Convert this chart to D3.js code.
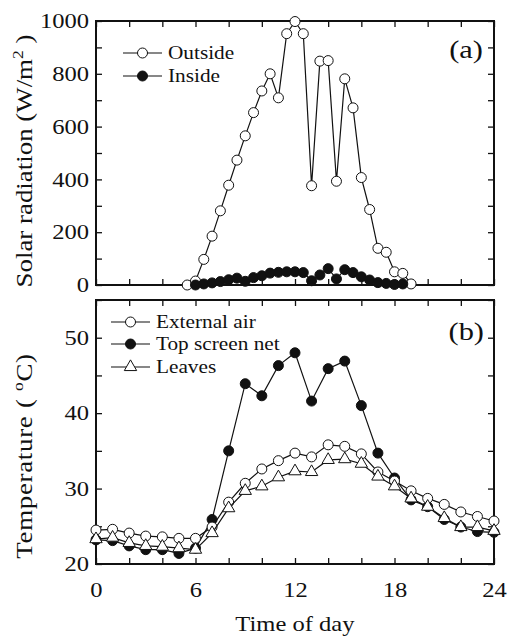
<!DOCTYPE html>
<html><head><meta charset="utf-8">
<script src="https://cdn.jsdelivr.net/npm/d3@7"></script>
<style>
body{margin:0;background:#fff;}
svg text{font-family:"Liberation Serif","Times New Roman",serif;fill:#111;}
.sx{transform-box:fill-box;transform-origin:center;transform:scaleX(1.17);}
.sxr{transform-box:fill-box;transform-origin:right center;transform:scaleX(1.17);}
.sxl{transform-box:fill-box;transform-origin:left center;transform:scaleX(1.12);}
</style></head><body>
<svg id="c" width="512" height="636"></svg>
<script>
// ---- data ----
const hoursSolarOut = [5.5,6,6.5,7,7.5,8,8.5,9,9.5,10,10.5,11,11.5,12,12.5,13,13.5,14,14.5,15,15.5,16,16.5,17,17.5,18,18.5,19];
const solarOutside = [0,15,97,185,281,378,473,565,653,735,800,709,952,998,952,376,848,850,393,781,671,407,286,139,124,50,44,4];
const hoursSolarIn = [6,6.5,7,7.5,8,8.5,9,9.5,10,10.5,11,11.5,12,12.5,13,13.5,14,14.5,15,15.5,16,16.5,17,17.5,18,18.5];
const solarInside = [0,4,8,13,20,26,14,28,35,45,48,50,50,47,16,38,62,23,58,47,31,19,9,6,2,4];
const hoursTemp = [0,1,2,3,4,5,6,7,8,9,10,11,12,13,14,15,16,17,18,19,20,21,22,23,24];
const tempExternal = [24.5,24.6,24.1,23.7,23.6,23.4,23.4,24.9,28.2,30.7,32.6,33.7,34.7,34.2,35.8,35.6,34.6,32.2,31.0,29.7,28.7,27.9,26.9,26.3,25.7];
const tempTopNet = [23.2,23.1,22.4,21.9,21.9,21.4,22.1,25.9,35.0,43.9,42.3,46.3,48.0,41.6,45.9,46.9,41.0,34.7,31.4,28.5,27.6,25.9,24.9,24.3,24.2];
const tempLeaves = [23.3,23.5,22.8,22.4,22.3,22.1,21.9,24.1,27.4,29.7,30.3,31.5,32.3,32.2,33.8,33.9,33.3,31.6,30.3,28.7,27.6,26.1,24.9,24.9,24.4];
const xTicks = [0,2,4,6,8,10,12,14,16,18,20,22,24];
const xTickLabels = [0,6,12,18,24];
const yTicksA = [0,100,200,300,400,500,600,700,800,900,1000];
const yTickLabelsA = [0,200,400,600,800,1000];
const yTicksB = [20,25,30,35,40,45,50,55];
const yTickLabelsB = [20,30,40,50];

const svg = d3.select("#c");
const L=96,R=494;
const x = d3.scaleLinear([0,24],[L,R]);
const yA = d3.scaleLinear([0,1000],[285,21]);
const yB = d3.scaleLinear([20,55],[564,300]);

function frame(y, yTicks, yLabels, xLabels){
  const [b,t] = y.range();
  const gl = svg.append("g").attr("transform",`translate(${L},0)`)
    .call(d3.axisLeft(y).tickValues(yTicks).tickSize(-6).tickPadding(7)
      .tickFormat(d=>yLabels.includes(d)?d:""));
  gl.selectAll("text").attr("class","sxr").style("font-size","21px");
  svg.append("g").attr("transform",`translate(${R},0)`)
    .call(d3.axisRight(y).tickValues(yTicks).tickSize(-6).tickFormat(""));
  svg.append("g").attr("transform",`translate(0,${t})`)
    .call(d3.axisTop(x).tickValues(xTicks).tickSize(-6).tickFormat(""));
  const gb = svg.append("g").attr("transform",`translate(0,${b})`)
    .call(d3.axisBottom(x).tickValues(xTicks).tickSize(-6).tickPadding(18)
      .tickFormat(d=>xLabels && xLabels.includes(d)?d:""));
  gb.selectAll("text").attr("class","sx").style("font-size","21px");
  svg.selectAll(".domain").remove();
  svg.selectAll(".tick line").attr("stroke","#111").attr("stroke-width",1.3);
  svg.append("rect").attr("x",L).attr("y",t).attr("width",R-L).attr("height",b-t)
    .attr("fill","none").attr("stroke","#111").attr("stroke-width",2);
}
frame(yA, yTicksA, yTickLabelsA, null);
frame(yB, yTicksB, yTickLabelsB, xTickLabels);

const lineG = (xs, ys, y) => d3.line().x((d,i)=>x(xs[i])).y(d=>y(d))(ys);
function series(xs, ys, y, type){
  svg.append("path").attr("d", lineG(xs,ys,y)).attr("fill","none").attr("stroke","#111").attr("stroke-width",1.2);
  const g = svg.append("g");
  ys.forEach((v,i)=>drawMarker(g, x(xs[i]), y(v), type));
}
function drawMarker(g, cx, cy, type){
  if(type==="tri"){
    g.append("path").attr("d", d3.symbol(d3.symbolTriangle, 66)())
      .attr("transform",`translate(${cx},${cy})`)
      .attr("fill","#fff").attr("stroke","#111").attr("stroke-width",1);
  } else {
    g.append("circle").attr("cx",cx).attr("cy",cy).attr("r",5)
      .attr("fill",type==="open"?"#fff":"#111").attr("stroke","#111").attr("stroke-width",1);
  }
}
series(hoursSolarOut, solarOutside, yA, "open");
series(hoursSolarIn, solarInside, yA, "filled");
series(hoursTemp, tempTopNet, yB, "filled");
series(hoursTemp, tempExternal, yB, "open");
series(hoursTemp, tempLeaves, yB, "tri");

// legends
function legend(x0, x1, items){
  items.forEach(it=>{
    svg.append("line").attr("x1",x0).attr("x2",x1).attr("y1",it.y).attr("y2",it.y)
      .attr("stroke","#111").attr("stroke-width",1.2);
    drawMarker(svg, (x0+x1)/2, it.y, it.type);
    svg.append("text").attr("class","sxl").attr("x",x1+6).attr("y",it.y+6.5)
      .style("font-size","19px").text(it.label);
  });
}
legend(123,162,[{y:53,label:"Outside",type:"open"},{y:76,label:"Inside",type:"filled"}]);
legend(111,150,[{y:322,label:"External air",type:"open"},{y:344,label:"Top screen net",type:"filled"},{y:367,label:"Leaves",type:"tri"}]);

// panel labels
svg.append("text").attr("class","sxr").attr("x",483).attr("y",58).attr("text-anchor","end").style("font-size","26px").text("(a)");
svg.append("text").attr("class","sxr").attr("x",484).attr("y",340).attr("text-anchor","end").style("font-size","26px").text("(b)");

// axis titles
const t1 = svg.append("g").attr("transform","translate(32,161) rotate(-90)")
  .append("text").attr("class","sx").attr("text-anchor","middle").style("font-size","23px");
t1.append("tspan").text("Solar radiation (W/m");
t1.append("tspan").attr("dy",-9).style("font-size","15px").text("2");
t1.append("tspan").attr("dy",9).text(" )");
const t2 = svg.append("g").attr("transform","translate(32,456) rotate(-90)")
  .append("text").attr("class","sx").attr("text-anchor","middle").style("font-size","23px")
  .style("letter-spacing","0.6px");
t2.append("tspan").text("Temperature (\u00a0");
t2.append("tspan").attr("dy",-9).style("font-size","15px").text("o");
t2.append("tspan").attr("dy",9).text("C)");
svg.append("text").attr("class","sx").attr("x",295).attr("y",631).attr("text-anchor","middle")
  .style("font-size","21px").text("Time of day");
</script></body></html>
